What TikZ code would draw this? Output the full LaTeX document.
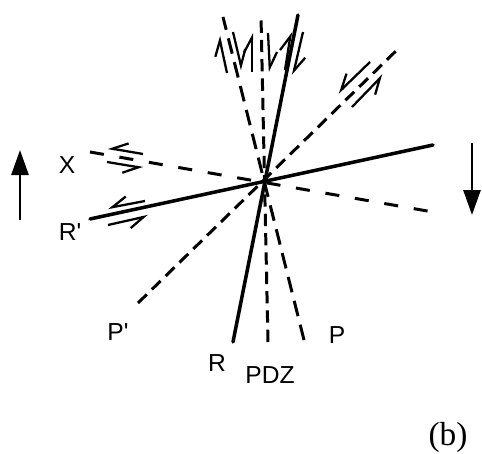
\documentclass[tikz,border=0pt]{standalone}
\usepackage{fontspec}
\setmainfont{Liberation Sans}
\newfontfamily\romain{Liberation Serif}
\usetikzlibrary{arrows.meta}

\tikzset{
  faille/.style={line width=2pt, line cap=round},
  tirets/.style={line width=1.7pt, dash pattern=on 7pt off 4pt},
  jeu/.style={line width=1.3pt, -{Straight Barb[harpoon,length=3mm,width=3.2mm]}},
  jeuinv/.style={line width=1.3pt, -{Straight Barb[harpoon,swap,length=3mm,width=3.2mm]}},
  fleche/.style={line width=1.6pt, -{Triangle[length=5mm,width=3.4mm]}},
  lettre/.style={font=\fontsize{14}{16}\selectfont}
}

\begin{document}
\begin{tikzpicture}[scale=1]

\useasboundingbox (-5.3,-5.44) rectangle (4.34,3.62);

% Centre
\coordinate (O) at (0,0);

% Extremites des failles
\coordinate (Rpg) at (-3.5,-0.76);
\coordinate (Rpd) at (3.36,0.72);
\coordinate (Xg) at (-3.5,0.58);
\coordinate (Xd) at (3.36,-0.62);
\coordinate (Ppb) at (-2.54,-2.44);
\coordinate (Pph) at (2.68,2.66);
\coordinate (Rb) at (-0.64,-3.22);
\coordinate (Rh) at (0.66,3.32);
\coordinate (PDZb) at (0.06,-3.22);
\coordinate (PDZh) at (-0.08,3.30);
\coordinate (Pb) at (0.78,-3.18);
\coordinate (Ph) at (-0.84,3.28);

% Failles R et R'
\draw[faille] (Rpg) -- (Rpd);
\draw[faille] (Rb) -- (Rh);

% Failles X, P, P' et PDZ
\draw[tirets, dash pattern=on 8pt off 9pt] (Xg) -- (Xd);
\draw[tirets] (Ppb) -- (Pph);
\draw[tirets] (PDZb) -- (PDZh);
\draw[tirets, dash pattern=on 9pt off 5pt] (Pb) -- (Ph);

% Jeu sur X et R'
\draw[jeuinv] (-2.44,0.54) -- (-3.14,0.66);
\draw[jeuinv] (-3.16,0.38) -- (-2.44,0.26);
\draw[jeuinv] (-2.4,-0.4) -- (-3.14,-0.54);
\draw[jeuinv] (-3.14,-0.88) -- (-2.34,-0.7);

% Jeu sur P'
\draw[jeuinv] (2.1,2.38) -- (1.46,1.76);
\draw[jeuinv] (1.74,1.48) -- (2.36,2.12);

% Jeu sur P, PDZ et R
\draw[jeu] (-0.76,2.16) -- (-0.92,2.9);
\draw[jeu] (-0.64,2.98) -- (-0.46,2.22);
\draw[jeu] (-0.26,2.18) -- (-0.26,2.96);
\draw[jeu] (0.06,2.96) -- (0.1,2.18);
\draw[jeu] (0.4,2.22) -- (0.52,2.98);
\draw[jeu] (0.76,2.98) -- (0.56,2.12);

% Sens du mouvement
\draw[fleche] (-4.9,-0.78) -- (-4.9,0.62);
\draw[fleche] (4.14,0.76) -- (4.14,-0.68);

% Noms
\node[lettre] (X) at (-3.96,0.32) {X};
\node[lettre] (Rp) at (-3.9,-1.02) {R\textquotesingle};
\node[lettre] (Pp) at (-2.94,-3.02) {P\textquotesingle};
\node[lettre] (R) at (-0.96,-3.64) {R};
\node[lettre] (PDZ) at (0.1,-3.88) {PDZ};
\node[lettre] (P) at (1.44,-3.08) {P};

\node[font=\romain\fontsize{19}{21}\selectfont] (b) at (3.66,-5.12) {(b)};

\end{tikzpicture}
\end{document}
